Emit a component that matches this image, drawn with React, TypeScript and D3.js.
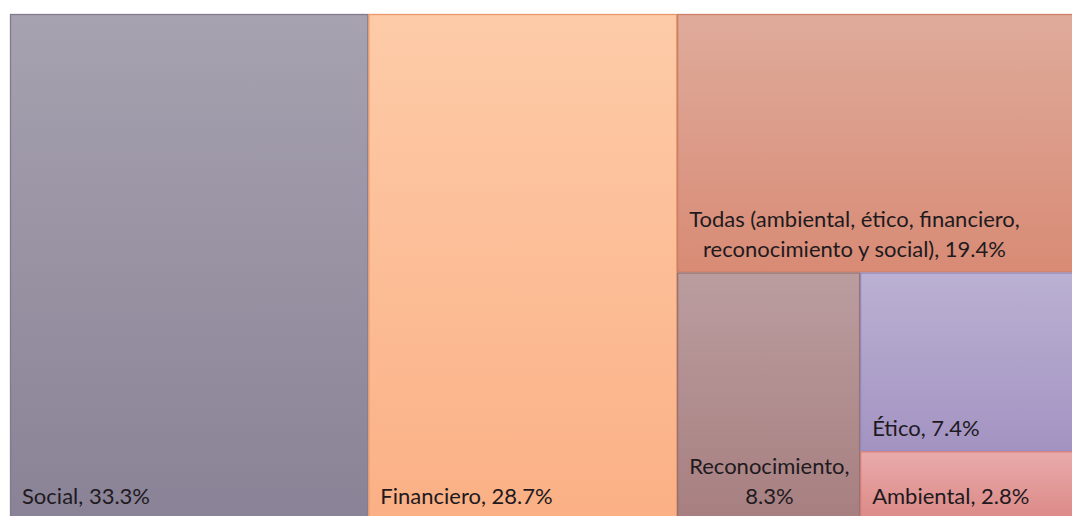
import React, { useEffect, useRef } from "react";
import * as d3 from "d3";

const categories = [
  "Social",
  "Financiero",
  "Todas (ambiental, ético, financiero, reconocimiento y social)",
  "Reconocimiento",
  "Ético",
  "Ambiental",
];
const values = [33.3, 28.7, 19.4, 8.3, 7.4, 2.8];
const topColors = ["#a6a2af", "#fdcba8", "#dfab9b", "#bb9d9f", "#bbb1d2", "#e9abab"];
const bottomColors = ["#8a8296", "#fbb085", "#d88b75", "#a77f80", "#a393c2", "#dc8a87"];
const strokeColors = ["#817b8d", "#e8986a", "#cd7f68", "#977273", "#9688b8", "#d27c78"];

const W = 1072;
const H = 516;
const X0 = 10;
const Y0 = 14;
const TW = 1075;
const TH = 505;
const FONT = "Lato, 'Open Sans', sans-serif";
const FONT_SIZE = 22;
const LINE_H = 30;
const PAD_L = 12;
const PAD_B = 15;

export default function App() {
  const ref = useRef<SVGSVGElement | null>(null);

  useEffect(() => {
    const svg = d3.select(ref.current);
    svg.selectAll("*").remove();

    const data = categories.map((name, i) => ({ name, value: values[i], i }));
    const root = d3
      .hierarchy<any>({ children: data })
      .sum((d: any) => d.value || 0)
      .sort((a, b) => (b.value || 0) - (a.value || 0));
    d3.treemap<any>().tile(d3.treemapSquarify.ratio(1)).size([TW, TH]).round(false)(root);

    const defs = svg.append("defs");
    data.forEach((d) => {
      const g = defs
        .append("linearGradient")
        .attr("id", `grad${d.i}`)
        .attr("x1", 0)
        .attr("y1", 0)
        .attr("x2", 0)
        .attr("y2", 1);
      g.append("stop").attr("offset", "0%").attr("stop-color", topColors[d.i]);
      g.append("stop").attr("offset", "100%").attr("stop-color", bottomColors[d.i]);
    });

    const gRoot = svg.append("g").attr("transform", `translate(${X0},${Y0})`);
    const leaves = root.leaves() as any[];

    const cells = gRoot
      .selectAll("g.cell")
      .data(leaves)
      .join("g")
      .attr("class", "cell");

    cells
      .append("rect")
      .attr("x", (d) => d.x0 + 0.5)
      .attr("y", (d) => d.y0 + 0.5)
      .attr("width", (d) => d.x1 - d.x0 - 1)
      .attr("height", (d) => d.y1 - d.y0 - 1)
      .attr("fill", (d) => `url(#grad${d.data.i})`)
      .attr("stroke", (d) => strokeColors[d.data.i])
      .attr("stroke-width", 1.3);

    // labels: word-wrapped, lines centered in a box anchored bottom-left
    cells.each(function (d: any) {
      const cell = d3.select(this);
      const label = `${d.data.name}, ${d.data.value.toFixed(1)}%`;
      const maxW = d.x1 - d.x0 - 2 * PAD_L;
      const words = label.split(" ");
      const text = cell
        .append("text")
        .attr("font-family", FONT)
        .attr("font-size", FONT_SIZE)
        .attr("fill", "#1e1a1e");
      const measure = text.append("tspan");
      const lines: string[] = [];
      let cur = "";
      words.forEach((w) => {
        const trial = cur ? cur + " " + w : w;
        measure.text(trial);
        const len = (measure.node() as SVGTSpanElement).getComputedTextLength();
        if (len > maxW && cur) {
          lines.push(cur);
          cur = w;
        } else {
          cur = trial;
        }
      });
      if (cur) lines.push(cur);
      measure.remove();
      const widths: number[] = [];
      const spans = lines.map((ln) => {
        const t = text.append("tspan").text(ln);
        widths.push((t.node() as SVGTSpanElement).getComputedTextLength());
        return t;
      });
      const boxW = Math.max(...widths);
      const cx = d.x0 + PAD_L + boxW / 2;
      const lastBase = d.y1 - PAD_B;
      spans.forEach((t, k) => {
        t.attr("x", cx)
          .attr("y", lastBase - (lines.length - 1 - k) * LINE_H)
          .attr("text-anchor", "middle");
      });
    });
  }, []);

  return (
    <svg
      ref={ref}
      width={W}
      height={H}
      style={{ position: "absolute", left: 0, top: 0, display: "block", background: "#fff" }}
    />
  );
}
